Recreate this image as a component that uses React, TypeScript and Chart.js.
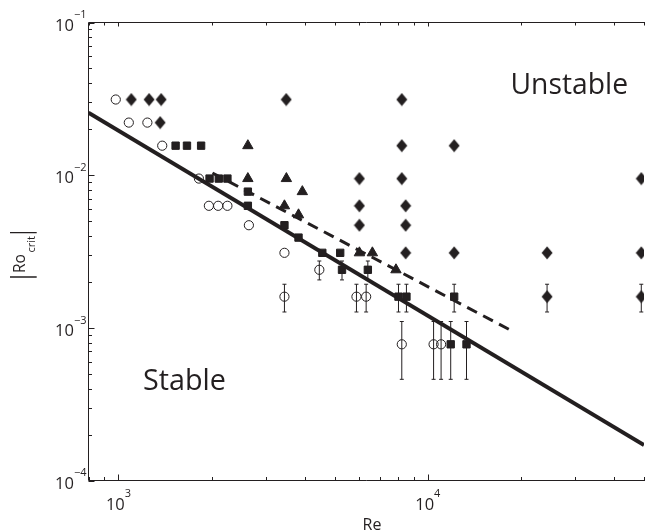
import React, { useEffect, useRef } from 'react';
import { Chart, registerables } from 'chart.js';

Chart.register(...registerables);

const INK = '#231f20';
const FONT = '"Open Sans", "Noto Sans", "DejaVu Sans", sans-serif';

// ---------------- data ----------------
const circleRe = [980, 1080, 1240, 1385, 1820, 1960, 2100, 2250, 2640, 3440, 3440, 4460, 5880, 6320, 8240, 10440, 11040];
const circleRo = [0.0313, 0.0221, 0.0221, 0.0156, 0.0095, 0.0063, 0.0063, 0.0063, 0.0047, 0.0031, 0.0016, 0.0024, 0.0016, 0.0016, 0.00078, 0.00078, 0.00078];
const circleErr = [0, 0, 0, 0, 0, 0, 0, 0, 0, 0, 0.00033, 0.00034, 0.00033, 0.00033, 0.00032, 0.00032, 0.00032];

const squareRe = [1530, 1665, 1850, 1970, 2110, 2250, 2620, 2620, 3440, 3820, 4560, 5210, 5280, 6400, 8040, 8530, 12170, 11860, 13340];
const squareRo = [0.0156, 0.0156, 0.0156, 0.0095, 0.0095, 0.0095, 0.0078, 0.0063, 0.0047, 0.0039, 0.0031, 0.0031, 0.0024, 0.0024, 0.0016, 0.0016, 0.0016, 0.00078, 0.00078];
const squareErr = [0, 0, 0, 0, 0, 0, 0, 0, 0, 0, 0, 0, 0.00034, 0.00034, 0.00033, 0.00033, 0.00033, 0.00032, 0.00032];

const triangleRe = [2620, 2620, 3490, 3930, 3440, 3820, 6010, 6620, 7890];
const triangleRo = [0.0156, 0.0095, 0.0095, 0.0078, 0.0063, 0.0055, 0.0031, 0.0031, 0.0024];

const diamondRe = [1100, 1256, 1374, 1364, 3485, 8240, 8240, 12170, 6010, 8240, 49000, 6010, 8480, 6010, 8480, 8480, 12170, 24300, 49000, 24300, 49000];
const diamondRo = [0.0313, 0.0313, 0.0313, 0.0221, 0.0313, 0.0313, 0.0156, 0.0156, 0.0095, 0.0095, 0.0095, 0.0063, 0.0063, 0.0047, 0.0047, 0.0031, 0.0031, 0.0031, 0.0031, 0.0016, 0.0016];
const diamondErr = [0, 0, 0, 0, 0, 0, 0, 0, 0, 0, 0, 0, 0, 0, 0, 0, 0, 0, 0, 0.00033, 0.00033];

const solidRe = [800, 50000];
const solidRo = [0.02563, 0.0001709];
const dashedRe = [2013, 18560];
const dashedRo = [0.01033, 0.000962];

// ---------------- axes ----------------
const xMin = 800;
const xMax = 50000;
const yMin = 1e-4;
const yMax = 1e-1;
const xMajorTicks = [1e3, 1e4];
const xMajorLabels = ['3', '4'];
const xMinorTicks = [800, 900, 2000, 3000, 4000, 5000, 6000, 7000, 8000, 9000, 20000, 30000, 40000, 50000];
const yMajorTicks = [1e-1, 1e-2, 1e-3, 1e-4];
const yMajorLabels = ['\u22121', '\u22122', '\u22123', '\u22124'];
const yMinorMantissa = [2, 3, 4, 5, 6, 7, 8, 9];
const yMinorDecades = [1e-4, 1e-3, 1e-2];

const xTitle = 'Re';
const yTitleMain = 'Ro';
const yTitleSub = 'crit';
const regionLabels = [
  { text: 'Unstable', x: 510.5, y: 94, w: 117.5 },
  { text: 'Stable', x: 143, y: 389.5, w: 83 },
];

function pts(xs: number[], ys: number[]) {
  return xs.map((x, i) => ({ x, y: ys[i] }));
}

function makeDiamond(w: number, h: number, color: string) {
  const c = document.createElement('canvas');
  c.width = w;
  c.height = h;
  const ctx = c.getContext('2d')!;
  ctx.fillStyle = color;
  ctx.beginPath();
  ctx.moveTo(w / 2, 0.5);
  ctx.lineTo(w - 0.5, h / 2);
  ctx.lineTo(w / 2, h - 0.5);
  ctx.lineTo(0.5, h / 2);
  ctx.closePath();
  ctx.fill();
  return c;
}

const errorSets = [
  { xs: circleRe, ys: circleRo, errs: circleErr },
  { xs: squareRe, ys: squareRo, errs: squareErr },
  { xs: diamondRe, ys: diamondRo, errs: diamondErr },
];

const errorBarPlugin = {
  id: 'errorBars',
  beforeDatasetsDraw(chart: any) {
    const { ctx } = chart;
    const xs = chart.scales.x;
    const ys = chart.scales.y;
    ctx.save();
    ctx.strokeStyle = INK;
    ctx.lineWidth = 1;
    errorSets.forEach((set) => {
      set.xs.forEach((xv, i) => {
        const e = set.errs[i];
        if (!e) return;
        const px = xs.getPixelForValue(xv);
        const top = ys.getPixelForValue(set.ys[i] + e);
        const bot = ys.getPixelForValue(set.ys[i] - e);
        ctx.beginPath();
        ctx.moveTo(px, top);
        ctx.lineTo(px, bot);
        ctx.moveTo(px - 2, top);
        ctx.lineTo(px + 2, top);
        ctx.moveTo(px - 2, bot);
        ctx.lineTo(px + 2, bot);
        ctx.stroke();
      });
    });
    ctx.restore();
  },
};

function drawPow(ctx: CanvasRenderingContext2D, exp: string, anchorX: number, baseY: number, align: 'right' | 'center') {
  const big = `16.5px ${FONT}`;
  const small = `11px ${FONT}`;
  ctx.font = big;
  const tw = ctx.measureText('10').width;
  ctx.font = small;
  const sw = ctx.measureText(exp).width;
  const total = tw + sw;
  const left = align === 'right' ? anchorX - total : anchorX - total / 2;
  ctx.textAlign = 'left';
  ctx.textBaseline = 'alphabetic';
  ctx.font = big;
  ctx.fillText('10', left, baseY);
  ctx.font = small;
  ctx.fillText(exp, left + tw, baseY - 12.3);
}

const axesPlugin = {
  id: 'matlabAxes',
  afterDraw(chart: any) {
    const { ctx, chartArea } = chart;
    const xs = chart.scales.x;
    const ys = chart.scales.y;
    const { left, top, right, bottom } = chartArea;
    ctx.save();
    ctx.strokeStyle = INK;
    ctx.fillStyle = INK;
    ctx.lineWidth = 1;
    // frame: left, bottom, top
    ctx.beginPath();
    ctx.moveTo(right + 1, top);
    ctx.lineTo(left, top);
    ctx.lineTo(left, bottom);
    ctx.lineTo(right + 1, bottom);
    ctx.stroke();

    // x ticks
    ctx.beginPath();
    xMajorTicks.forEach((v) => {
      const px = Math.round(xs.getPixelForValue(v)) + 0.5;
      ctx.moveTo(px, bottom);
      ctx.lineTo(px, bottom - 6);
      ctx.moveTo(px, top);
      ctx.lineTo(px, top + 4);
    });
    xMinorTicks.forEach((v) => {
      const px = Math.round(xs.getPixelForValue(v)) + 0.5;
      ctx.moveTo(px, bottom);
      ctx.lineTo(px, bottom - 3.5);
      ctx.moveTo(px, top);
      ctx.lineTo(px, top + 3);
    });
    // y ticks
    yMajorTicks.forEach((v) => {
      const py = Math.round(ys.getPixelForValue(v)) + 0.5;
      ctx.moveTo(left, py);
      ctx.lineTo(left + 6, py);
    });
    yMinorDecades.forEach((d) => {
      yMinorMantissa.forEach((m) => {
        const py = Math.round(ys.getPixelForValue(m * d)) + 0.5;
        ctx.moveTo(left, py);
        ctx.lineTo(left + 3.5, py);
      });
    });
    ctx.stroke();

    // tick labels
    yMajorTicks.forEach((v, i) => {
      const py = ys.getPixelForValue(v);
      drawPow(ctx, yMajorLabels[i], 86.5, py + 8.2, 'right');
    });
    xMajorTicks.forEach((v, i) => {
      const px = xs.getPixelForValue(v);
      drawPow(ctx, xMajorLabels[i], px, 509.5, 'center');
    });

    // x title
    ctx.font = `16px ${FONT}`;
    ctx.textAlign = 'center';
    ctx.textBaseline = 'alphabetic';
    ctx.fillText(xTitle, 372, 530);

    // y title |Ro_crit|
    ctx.save();
    ctx.translate(25, 279);
    ctx.rotate(-Math.PI / 2);
    ctx.textAlign = 'left';
    ctx.font = `15.5px ${FONT}`;
    const roX = 6;
    ctx.fillText(yTitleMain, roX, 0);
    const roW = ctx.measureText(yTitleMain).width;
    ctx.font = `11px ${FONT}`;
    const subX = roX + roW + 1.5;
    ctx.fillText(yTitleSub, subX, 10);
    const subW = ctx.measureText(yTitleSub).width;
    ctx.lineWidth = 1.3;
    ctx.beginPath();
    ctx.moveTo(2, -15);
    ctx.lineTo(2, 11.7);
    const b2 = subX + subW + 3.5;
    ctx.moveTo(b2, -15);
    ctx.lineTo(b2, 11.7);
    ctx.stroke();
    ctx.restore();

    // region labels
    regionLabels.forEach((l) => {
      ctx.save();
      ctx.font = `29.5px ${FONT}`;
      ctx.textAlign = 'left';
      const mw = ctx.measureText(l.text).width;
      ctx.translate(l.x, l.y);
      ctx.scale(l.w / mw, 1);
      ctx.fillText(l.text, 0, 0);
      ctx.restore();
    });

    ctx.restore();
  },
};

export default function App() {
  const ref = useRef<HTMLCanvasElement>(null);
  useEffect(() => {
    const diamond = makeDiamond(12, 14, INK);
    const chart = new Chart(ref.current!, {
      type: 'scatter',
      data: {
        datasets: [
          {
            label: 'circles',
            data: pts(circleRe, circleRo),
            pointStyle: 'circle',
            pointRadius: 4.6,
            pointBorderWidth: 1,
            pointBorderColor: INK,
            pointBackgroundColor: 'rgba(0,0,0,0)',
            showLine: false,
            order: 1,
          },
          {
            label: 'squares',
            data: pts(squareRe, squareRo),
            pointStyle: 'rect',
            pointRadius: 5.2,
            pointBorderWidth: 1,
            pointBorderColor: INK,
            pointBackgroundColor: INK,
            showLine: false,
            order: 1,
          },
          {
            label: 'triangles',
            data: pts(triangleRe, triangleRo),
            pointStyle: 'triangle',
            pointRadius: 6,
            pointBorderWidth: 1,
            pointBorderColor: INK,
            pointBackgroundColor: INK,
            showLine: false,
            order: 1,
          },
          {
            label: 'diamonds',
            data: pts(diamondRe, diamondRo),
            pointStyle: diamond as any,
            pointRadius: 6,
            showLine: false,
            order: 1,
          },
          {
            label: 'fit',
            data: pts(solidRe, solidRo),
            showLine: true,
            borderColor: INK,
            borderWidth: 4,
            pointRadius: 0,
            order: 5,
          },
          {
            label: 'dashed',
            data: pts(dashedRe, dashedRo),
            showLine: true,
            borderColor: INK,
            borderWidth: 3,
            borderDash: [11, 7],
            pointRadius: 0,
            order: 5,
          },
        ],
      },
      options: {
        animation: false,
        responsive: false,
        devicePixelRatio: 1,
        events: [],
        layout: { padding: { left: 88.5, top: 22.5, right: 0, bottom: 50.5 } },
        plugins: { legend: { display: false }, tooltip: { enabled: false } },
        scales: {
          x: { type: 'logarithmic', min: xMin, max: xMax, display: false },
          y: { type: 'logarithmic', min: yMin, max: yMax, display: false },
        },
      },
      plugins: [errorBarPlugin, axesPlugin],
    });
    return () => chart.destroy();
  }, []);
  return (
    <canvas
      ref={ref}
      width={651}
      height={531}
      style={{ position: 'absolute', left: 0, top: 0, width: 651, height: 531, background: '#fff' }}
    />
  );
}
